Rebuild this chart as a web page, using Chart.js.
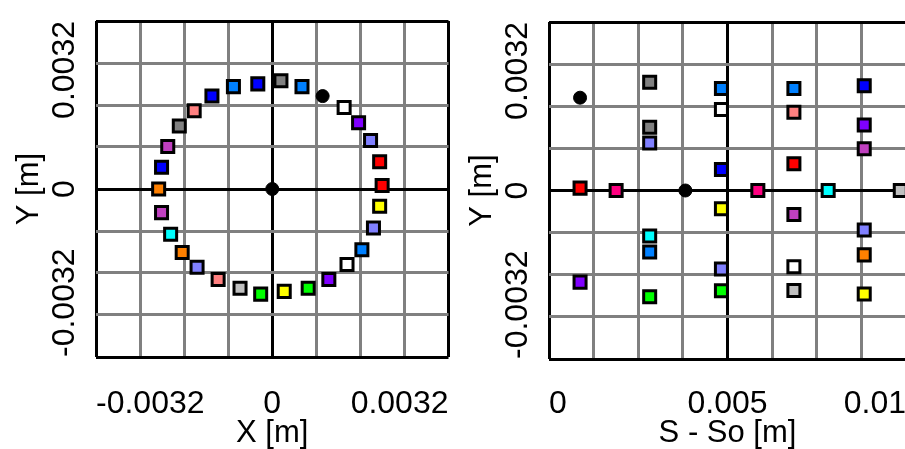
<!DOCTYPE html>
<html>
<head>
<meta charset="utf-8">
<script src="https://cdn.jsdelivr.net/npm/chart.js@4"></script>
<style>
  html, body { margin: 0; padding: 0; background: #fff; }
  #wrap { position: relative; width: 905px; height: 449px; overflow: hidden; background: #fff; }
  canvas { position: absolute; top: 0; }
  #leftChart { left: 0; }
  #rightChart { left: 460px; }
</style>
</head>
<body>
<div id="wrap">
  <canvas id="leftChart" width="460" height="449"></canvas>
  <canvas id="rightChart" width="460" height="449"></canvas>
</div>
<script>
// ---- data: cross-section (X, Y) ----
var leftX = [0.00021, 0.00072, 0.00122, 0.00174, 0.00209, 0.00238, 0.00260, 0.00266, 0.00260, 0.00245,
             0.00217, 0.00181, 0.00137, 0.00087, 0.00029, -0.00028, -0.00078, -0.00131, -0.00182, -0.00218,
             -0.00246, -0.00268, -0.00275, -0.00268, -0.00253, -0.00225, -0.00189, -0.00146, -0.00094, -0.00035,
             0];
var leftY = [0.00275, 0.00260, 0.00236, 0.00207, 0.00168, 0.00123, 0.00069, 0.00009, -0.00044, -0.00099,
             -0.00154, -0.00192, -0.00230, -0.00252, -0.00260, -0.00267, -0.00252, -0.00230, -0.00199, -0.00161,
             -0.00115, -0.00060, 0, 0.00055, 0.00108, 0.00160, 0.00199, 0.00236, 0.00260, 0.00267,
             0];
var leftColors = ['#808080', '#0080ff', '#000000', '#ffffff', '#8000ff', '#8080ff', '#ff0000', '#ff0000', '#ffff00', '#8080ff',
                  '#0080ff', '#ffffff', '#8000ff', '#00ff00', '#ffff00', '#00ff00', '#c0c0c0', '#ff8080', '#8080ff', '#ff8000',
                  '#00ffff', '#c040c0', '#ff8000', '#0000ff', '#c040c0', '#808080', '#ff8080', '#0000ff', '#0080ff', '#0000ff',
                  '#000000'];

// ---- data: side view (S - So, Y) ----
var rightS = [0.00087, 0.00087, 0.00087, 0.00188,
              0.00282, 0.00282, 0.00282, 0.00282, 0.00282, 0.00282,
              0.00382,
              0.00483, 0.00483, 0.00483, 0.00483, 0.00483, 0.00483,
              0.00585,
              0.00686, 0.00686, 0.00686, 0.00686, 0.00686, 0.00686,
              0.00782,
              0.00883, 0.00883, 0.00883, 0.00883, 0.00883, 0.00883,
              0.00984];
var rightY = [0.00235, 0.00006, -0.00232, 0,
              0.00274, 0.00160, 0.00120, -0.00115, -0.00156, -0.00269,
              0,
              0.00258, 0.00205, 0.00053, -0.00046, -0.00199, -0.00254,
              0,
              0.00258, 0.00198, 0.00068, -0.00061, -0.00193, -0.00253,
              0,
              0.00265, 0.00166, 0.00106, -0.00100, -0.00163, -0.00262,
              0];
var rightColors = ['#000000', '#ff0000', '#8000ff', '#ff0080',
                   '#808080', '#808080', '#8080ff', '#00ffff', '#0080ff', '#00ff00',
                   '#000000',
                   '#0080ff', '#ffffff', '#0000ff', '#ffff00', '#8080ff', '#00ff00',
                   '#ff0080',
                   '#0080ff', '#ff8080', '#ff0000', '#c040c0', '#ffffff', '#c0c0c0',
                   '#00ffff',
                   '#0000ff', '#8000ff', '#c040c0', '#8080ff', '#ff8000', '#ffff00',
                   '#c0c0c0'];

// ---- axes ----
var yGrid = [-0.0042667, -0.0032, -0.0021333, -0.0010667, 0, 0.0010667, 0.0021333, 0.0032, 0.0042667];
var xGridLeft = yGrid;
var xGridRight = [0, 0.00125, 0.0025, 0.00375, 0.005, 0.00625, 0.0075, 0.00875, 0.01];
var yTickValues = [-0.0032, 0, 0.0032];
var yTickLabels = ['-0.0032', '0', '0.0032'];
var xTickValuesLeft = [-0.0032, 0, 0.0032];
var xTickLabelsLeft = ['-0.0032', '0', '0.0032'];
var xTickValuesRight = [0, 0.005, 0.01];
var xTickLabelsRight = ['0', '0.005', '0.01'];
var darkLinesLeft = [-0.0042667, 0, 0.0042667];
var darkLinesRight = [0, 0.005, 0.01];

var FONT = '"Liberation Sans", Arial, sans-serif';

// tick labels, centred on the tick and kept inside the plot box
var tickText = {
  id: 'tickText',
  afterDraw(chart, args, opts) {
    var ctx = chart.ctx, a = chart.chartArea;
    ctx.save();
    ctx.font = '32px ' + FONT;
    ctx.fillStyle = '#000';
    ctx.textAlign = 'left';
    ctx.textBaseline = 'alphabetic';
    opts.xValues.forEach(function (v, i) {
      var t = opts.xLabels[i];
      var w = ctx.measureText(t).width;
      var left = chart.scales.x.getPixelForValue(v) - w / 2;
      left = Math.max(a.left, Math.min(left, a.right - w));
      ctx.fillText(t, left, 413);
    });
    opts.yValues.forEach(function (v, i) {
      var t = opts.yLabels[i];
      var w = ctx.measureText(t).width;
      var bottom = chart.scales.y.getPixelForValue(v) + w / 2;
      bottom = Math.min(Math.max(bottom, a.top + w), a.bottom);
      ctx.save();
      ctx.translate(a.left - 22.5, bottom);
      ctx.rotate(-Math.PI / 2);
      ctx.fillText(t, 0, 0);
      ctx.restore();
    });
    ctx.restore();
  }
};

function lineColor(dark) {
  return function (c) {
    var v = c.tick ? c.tick.value : NaN;
    return dark.some(function (d) { return Math.abs(d - v) < 1e-7; }) ? '#000000' : '#808080';
  };
}

function makeChart(id, xs, ys, colors, cfg) {
  var pts = xs.map(function (x, i) { return { x: x, y: ys[i] }; });
  return new Chart(document.getElementById(id), {
    type: 'scatter',
    data: {
      datasets: [{
        data: pts,
        clip: false,
        pointStyle: function (c) { return colors[c.dataIndex] === '#000000' ? 'circle' : 'rect'; },
        pointRadius: function (c) { return colors[c.dataIndex] === '#000000' ? 6.5 : 8.5; },
        pointBorderWidth: function (c) { return colors[c.dataIndex] === '#000000' ? 1 : 3; },
        pointBackgroundColor: colors,
        pointBorderColor: '#000000',
        pointHoverRadius: 8.5
      }]
    },
    options: {
      responsive: false,
      animation: false,
      devicePixelRatio: 1,
      layout: { padding: { top: cfg.top, right: cfg.right, left: 0, bottom: 0 } },
      plugins: {
        legend: { display: false },
        tooltip: { enabled: false },
        tickText: { xValues: cfg.xTickValues, xLabels: cfg.xTickLabels, yValues: yTickValues, yLabels: yTickLabels }
      },
      scales: {
        x: {
          type: 'linear',
          min: cfg.xGrid[0],
          max: cfg.xGrid[cfg.xGrid.length - 1],
          afterBuildTicks: function (s) { s.ticks = cfg.xGrid.map(function (v) { return { value: v }; }); },
          afterFit: function (s) { s.height = cfg.xHeight; },
          ticks: { display: false },
          border: { display: false },
          grid: { color: lineColor(cfg.xDark), lineWidth: 3, drawTicks: false },
          title: {
            display: true, text: cfg.xTitle, color: '#000',
            font: { family: FONT, size: 31, lineHeight: 1 },
            padding: { top: 0, bottom: 0 }
          }
        },
        y: {
          type: 'linear',
          min: yGrid[0],
          max: yGrid[yGrid.length - 1],
          afterBuildTicks: function (s) { s.ticks = yGrid.map(function (v) { return { value: v }; }); },
          afterFit: function (s) { s.width = cfg.yWidth; },
          ticks: { display: false },
          border: { display: false },
          grid: { color: lineColor(darkLinesLeft), lineWidth: 3, drawTicks: false },
          title: {
            display: true, text: 'Y [m]', color: '#000',
            font: { family: FONT, size: 31, lineHeight: 1 },
            padding: { top: cfg.yTitlePad, bottom: 0 }
          }
        }
      }
    },
    plugins: [tickText]
  });
}

makeChart('leftChart', leftX, leftY, leftColors, {
  top: 21, right: 8, xHeight: 92, yWidth: 96, yTitlePad: 13.5,
  xGrid: xGridLeft, xDark: darkLinesLeft, xTitle: 'X [m]',
  xTickValues: xTickValuesLeft, xTickLabels: xTickLabelsLeft
});

makeChart('rightChart', rightS, rightY, rightColors, {
  top: 22, right: 14, xHeight: 90, yWidth: 89, yTitlePad: 6.5,
  xGrid: xGridRight, xDark: darkLinesRight, xTitle: 'S - So [m]',
  xTickValues: xTickValuesRight, xTickLabels: xTickLabelsRight
});
</script>
</body>
</html>
